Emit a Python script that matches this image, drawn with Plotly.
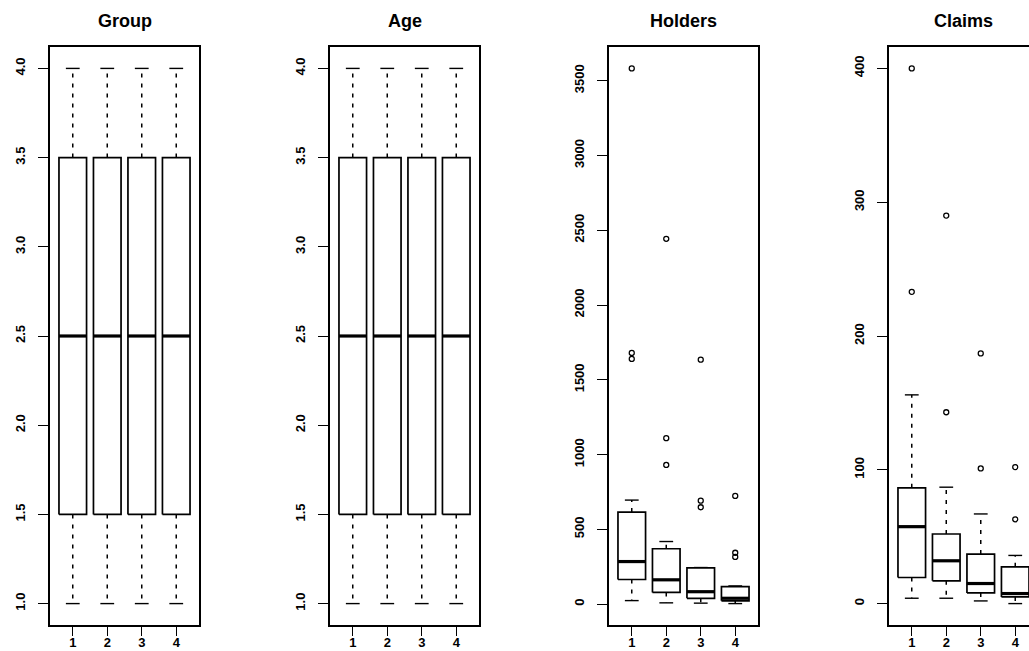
import numpy as np
import plotly.graph_objects as go

# Insurance data, split by district (16 rows per district: 4 groups x 4 age bands)
districts = [1, 2, 3, 4]
group_codes = [1, 1, 1, 1, 2, 2, 2, 2, 3, 3, 3, 3, 4, 4, 4, 4]
age_codes = [1, 2, 3, 4, 1, 2, 3, 4, 1, 2, 3, 4, 1, 2, 3, 4]

holders_by_district = [
    [197, 264, 246, 1680, 284, 536, 696, 3582, 133, 286, 355, 1640, 24, 71, 99, 452],
    [85, 139, 151, 931, 149, 313, 419, 2443, 66, 175, 221, 1110, 9, 48, 72, 322],
    [35, 73, 89, 648, 53, 155, 240, 1635, 24, 78, 121, 692, 7, 29, 43, 245],
    [20, 33, 40, 316, 31, 81, 122, 724, 14, 39, 68, 344, 4, 16, 25, 114],
]
claims_by_district = [
    [38, 35, 20, 156, 63, 84, 89, 400, 19, 52, 74, 233, 4, 18, 19, 77],
    [22, 19, 22, 87, 25, 51, 49, 290, 14, 46, 39, 143, 4, 15, 12, 53],
    [5, 11, 10, 67, 10, 24, 37, 187, 8, 19, 24, 101, 3, 2, 8, 37],
    [2, 5, 4, 36, 7, 10, 22, 102, 5, 7, 16, 63, 0, 6, 8, 33],
]

panel_titles = ["Group", "Age", "Holders", "Claims"]
panel_data = [
    [group_codes] * 4,
    [age_codes] * 4,
    holders_by_district,
    claims_by_district,
]
panel_ticks = [
    [1.0, 1.5, 2.0, 2.5, 3.0, 3.5, 4.0],
    [1.0, 1.5, 2.0, 2.5, 3.0, 3.5, 4.0],
    [0, 500, 1000, 1500, 2000, 2500, 3000, 3500],
    [0, 100, 200, 300, 400],
]
panel_tick_fmt = ["{:.1f}", "{:.1f}", "{:d}", "{:d}"]


def tukey_stats(values, coef=1.5):
    """Hinges, median, whisker ends and outliers as in R's boxplot.stats."""
    x = np.sort(np.asarray(values, dtype=float))
    n = len(x)
    n4 = np.floor((n + 3) / 2) / 2
    d = np.array([1, n4, (n + 1) / 2, n + 1 - n4, n]) - 1
    five = 0.5 * (x[np.floor(d).astype(int)] + x[np.ceil(d).astype(int)])
    q1, med, q3 = five[1], five[2], five[3]
    iqr = q3 - q1
    inside = x[(x >= q1 - coef * iqr) & (x <= q3 + coef * iqr)]
    lo, hi = inside.min(), inside.max()
    outliers = x[(x < lo) | (x > hi)]
    return q1, med, q3, lo, hi, outliers


# Page geometry (pixels)
W, H = 1029, 651
panel_left = [50, 330, 609, 889]
panel_width = 149
plot_top, plot_bottom = 47, 625

BOX_HALF = 0.4      # boxwex 0.8
STAPLE_HALF = 0.2   # staplewex 0.5
X_LO, X_HI = 0.5 - 0.16, 4.5 + 0.16

FONT = "Liberation Sans"

fig = go.Figure()
layout_axes = {}
annotations = []

for k in range(4):
    ax = "" if k == 0 else str(k + 1)
    xref, yref = "x" + ax, "y" + ax

    bx, by, mx, my, wx, wy, sx, sy, ox, oy = ([] for _ in range(10))
    all_vals = []
    for j, vals in zip(districts, panel_data[k]):
        all_vals.extend(vals)
        q1, med, q3, lo, hi, outs = tukey_stats(vals)
        bx += [j - BOX_HALF, j + BOX_HALF, j + BOX_HALF, j - BOX_HALF, j - BOX_HALF, None]
        by += [q1, q1, q3, q3, q1, None]
        mx += [j - BOX_HALF, j + BOX_HALF, None]
        my += [med, med, None]
        wx += [j, j, None, j, j, None]
        wy += [q3, hi, None, q1, lo, None]
        sx += [j - STAPLE_HALF, j + STAPLE_HALF, None, j - STAPLE_HALF, j + STAPLE_HALF, None]
        sy += [hi, hi, None, lo, lo, None]
        ox += [j] * len(outs)
        oy += list(outs)

    common = dict(xaxis=xref, yaxis=yref, showlegend=False, hoverinfo="skip")
    fig.add_trace(go.Scatter(x=wx, y=wy, mode="lines",
                             line=dict(color="black", width=1.5, dash="4px,6px"), **common))
    fig.add_trace(go.Scatter(x=sx, y=sy, mode="lines",
                             line=dict(color="black", width=1.4), **common))
    fig.add_trace(go.Scatter(x=bx, y=by, mode="lines", fill="toself", fillcolor="white",
                             line=dict(color="black", width=1.7), **common))
    fig.add_trace(go.Scatter(x=mx, y=my, mode="lines",
                             line=dict(color="black", width=3.2), **common))
    fig.add_trace(go.Scatter(x=ox, y=oy, mode="markers",
                             marker=dict(symbol="circle-open", size=5, color="black",
                                         line=dict(width=1.3)), **common))

    vmin, vmax = min(all_vals), max(all_vals)
    pad = 0.04 * (vmax - vmin)
    left = panel_left[k]
    right = left + panel_width
    x_hi = X_HI
    if right > W:
        x_hi = X_LO + (W - left) / panel_width * (X_HI - X_LO)
        right = W

    layout_axes["xaxis" + ax] = dict(
        domain=[left / W, right / W], range=[X_LO, x_hi],
        tickmode="array", tickvals=districts, ticktext=[str(d) for d in districts],
        ticks="outside", ticklen=9, tickwidth=1.4, tickcolor="black",
        ticklabelstandoff=-4,
        showline=True, linecolor="black", linewidth=1.7, mirror=True,
        showgrid=False, zeroline=False, automargin=False, fixedrange=True,
        anchor=yref, tickfont=dict(family=FONT, size=13, color="black", weight="bold"),
    )
    layout_axes["yaxis" + ax] = dict(
        domain=[(H - plot_bottom) / H, (H - plot_top) / H], range=[vmin - pad, vmax + pad],
        tickmode="array", tickvals=panel_ticks[k],
        ticktext=[panel_tick_fmt[k].format(t) for t in panel_ticks[k]],
        tickangle=-90, ticks="outside", ticklen=10, tickwidth=1.4, tickcolor="black",
        ticklabelstandoff=8,
        showline=True, linecolor="black", linewidth=1.7, mirror=(k < 3),
        showgrid=False, zeroline=False, automargin=False, fixedrange=True,
        anchor=xref, tickfont=dict(family=FONT, size=13, color="black", weight="bold"),
    )
    annotations.append(dict(
        text=panel_titles[k], xref="paper", yref="paper",
        x=(panel_left[k] + panel_width / 2) / W, y=(H - 21) / H,
        xanchor="center", yanchor="middle", showarrow=False,
        font=dict(family=FONT, size=18, color="black", weight="bold"),
    ))

fig.update_layout(
    width=W, height=H, autosize=False,
    margin=dict(l=0, r=0, t=0, b=0, pad=0),
    paper_bgcolor="white", plot_bgcolor="white",
    annotations=annotations,
    **layout_axes,
)

fig.write_html("out.html")
